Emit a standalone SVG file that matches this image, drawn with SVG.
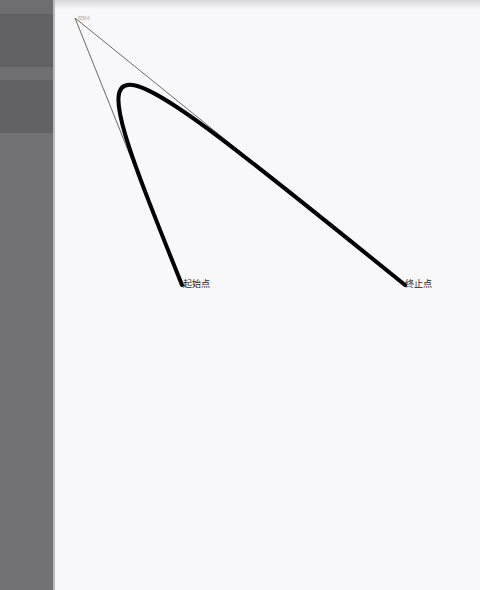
<svg xmlns="http://www.w3.org/2000/svg" width="480" height="590" viewBox="0 0 480 590">
<defs>
<linearGradient id="topShade" x1="0" y1="0" x2="0" y2="1">
<stop offset="0" stop-color="#d6d5d8"/>
<stop offset="1" stop-color="#f8f7f9"/>
</linearGradient>
</defs>
<style>
.guide{stroke:#6a6a6a;stroke-width:1;fill:none}
.curve{stroke:#000;stroke-width:4;fill:none;stroke-linecap:round}
.lbl{font-family:"Noto Sans CJK SC","Liberation Sans",sans-serif;font-size:9px;fill:#222}
</style>
<rect width="480" height="590" fill="#f8f7f9"/>
<rect x="53" y="0" width="427" height="9" fill="url(#topShade)"/>
<g id="sidebar">
<rect x="0" y="0" width="53" height="590" fill="#727174"/>
<rect x="0" y="0" width="53" height="14" fill="#6e6d70"/>
<rect x="0" y="14" width="53" height="53" fill="#626164"/>
<rect x="0" y="67" width="53" height="13" fill="#6f6e71"/>
<rect x="0" y="80" width="53" height="53" fill="#626164"/>
<rect x="53" y="0" width="2" height="590" fill="#b9b8bb"/>
</g>
<g id="connectors">
<line class="guide" x1="75" y1="18" x2="182" y2="285"/>
<line class="guide" x1="75" y1="18" x2="405" y2="285"/>
<path class="curve" d="M182,285 C75,18 75,18 405,285"/>
</g>
<g id="control"><text x="78" y="20" font-family="Noto Sans CJK SC,sans-serif" font-size="4" fill="#999">控制点</text></g>
<g id="start"><text class="lbl" x="183" y="287">起始点</text></g>
<g id="end"><text class="lbl" x="405" y="287">终止点</text></g>
</svg>
